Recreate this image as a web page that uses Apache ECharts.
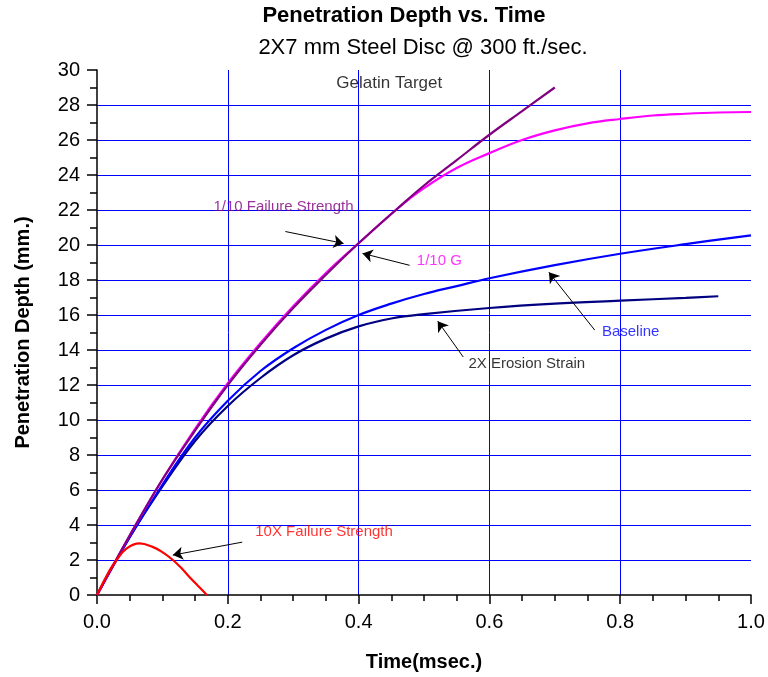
<!DOCTYPE html>
<html>
<head>
<meta charset="utf-8">
<script src="https://cdn.jsdelivr.net/npm/echarts@6/dist/echarts.min.js"></script>
<style>
  html, body { margin: 0; padding: 0; background: #fff; }
  #main { width: 768px; height: 677px; }
</style>
</head>
<body>
<div id="main"></div>
<script>
// time (msec.) / depth (mm.) pairs
var failure10th = [[0,0],[0.05,3.4],[0.1,6.6],[0.15,9.4],[0.2,12.0],[0.25,14.3],[0.3,16.4],[0.35,18.3],[0.4,20.1],[0.46,22.1],[0.5,23.4],[0.55,24.85],[0.6,26.3],[0.65,27.65],[0.7,29.0]];
var g10th = [[0,0],[0.05,3.4],[0.1,6.6],[0.15,9.5],[0.2,12.1],[0.25,14.4],[0.3,16.5],[0.35,18.4],[0.4,20.1],[0.46,22.1],[0.5,23.25],[0.55,24.4],[0.6,25.25],[0.65,26.0],[0.7,26.55],[0.75,26.95],[0.8,27.2],[0.85,27.4],[0.9,27.5],[0.95,27.57],[1.0,27.6]];
var baseline = [[0,0],[0.05,3.3],[0.1,6.3],[0.15,9.0],[0.2,11.1],[0.25,12.8],[0.3,14.1],[0.35,15.15],[0.4,16.0],[0.45,16.65],[0.5,17.2],[0.55,17.65],[0.6,18.1],[0.7,18.85],[0.8,19.5],[0.9,20.05],[1.0,20.55]];
var erosion2x = [[0,0],[0.05,3.3],[0.1,6.2],[0.15,8.8],[0.2,10.8],[0.25,12.4],[0.3,13.7],[0.35,14.65],[0.4,15.35],[0.45,15.8],[0.5,16.05],[0.6,16.4],[0.7,16.65],[0.8,16.82],[0.9,16.98],[0.95,17.07]];
var failure10x = [[0,0],[0.01,0.75],[0.02,1.45],[0.03,2.0],[0.045,2.65],[0.065,2.95],[0.085,2.75],[0.1,2.45],[0.116,2.0],[0.13,1.5],[0.142,1.0],[0.155,0.5],[0.168,0]];

// annotation texts [x, y, text, color, size] and arrows [from, to]
var notes = [
  [0.366, 29.25, 'Gelatin Target', '#000000', 17],
  [0.178, 22.2, '1/10 Failure Strength', '#800080', 15],
  [0.489, 19.12, '1/10 G', '#ff00ff', 15],
  [0.772, 15.03, 'Baseline', '#0000ff', 15],
  [0.568, 13.2, '2X Erosion Strain', '#000000', 15],
  [0.242, 3.62, '10X Failure Strength', '#ff0000', 15]
];
var arrows = [
  [[0.288, 20.77], [0.377, 20.09]],
  [[0.478, 18.84], [0.406, 19.52]],
  [[0.761, 15.14], [0.691, 18.44]],
  [[0.560, 13.60], [0.521, 15.65]],
  [[0.222, 3.02], [0.116, 2.28]]
];

var chart = echarts.init(document.getElementById('main'));
var font = 'Liberation Sans, Arial, sans-serif';

function curve(name, data, color) {
  return {
    name: name, type: 'line', data: data, showSymbol: false, smooth: 0.4,
    lineStyle: { color: color, width: 2.2 }, z: 3
  };
}

var option = {
  animation: false,
  backgroundColor: '#fff',
  textStyle: { fontFamily: font },
  title: [
    { text: 'Penetration Depth vs. Time', left: 404, top: 5, padding: 0, textAlign: 'center',
      textStyle: { fontSize: 22, fontWeight: 'bold', color: '#000', fontFamily: font } },
    { text: '2X7 mm Steel Disc @ 300 ft./sec.', left: 423, top: 37, padding: 0, textAlign: 'center',
      textStyle: { fontSize: 22, fontWeight: 'normal', color: '#000', fontFamily: font } }
  ],
  grid: { left: 97, right: 17, top: 70, bottom: 80 },
  xAxis: {
    type: 'value', min: 0, max: 1, interval: 0.2,
    name: 'Time(msec.)', nameLocation: 'middle', nameGap: 57,
    nameTextStyle: { fontSize: 20, fontWeight: 'bold', color: '#000' },
    axisLine: { lineStyle: { color: '#000', width: 1.5 } },
    axisTick: { length: 9, lineStyle: { color: '#000', width: 1.5 } },
    minorTick: { show: true, splitNumber: 4, length: 6, lineStyle: { color: '#000', width: 1.5 } },
    axisLabel: { fontSize: 20, color: '#000', margin: 17, formatter: function (v) { return v.toFixed(1); } },
    splitLine: { show: true, showMinLine: false, showMaxLine: false, lineStyle: { color: '#0000ff', width: 1 } }
  },
  yAxis: {
    type: 'value', min: 0, max: 30, interval: 2,
    name: 'Penetration Depth (mm.)', nameLocation: 'middle', nameGap: 64, nameRotate: 90,
    nameTextStyle: { fontSize: 20, fontWeight: 'bold', color: '#000' },
    axisLine: { show: true, lineStyle: { color: '#000', width: 1.5 } },
    axisTick: { show: true, length: 10, lineStyle: { color: '#000', width: 1.5 } },
    minorTick: { show: true, splitNumber: 2, length: 7, lineStyle: { color: '#000', width: 1.5 } },
    axisLabel: { fontSize: 20, color: '#000', margin: 17 },
    splitLine: { show: true, showMinLine: false, showMaxLine: false, lineStyle: { color: '#0000ff', width: 1 } }
  },
  series: [
    curve('2X Erosion Strain', erosion2x, '#000080'),
    curve('Baseline', baseline, '#0000ff'),
    curve('1/10 G', g10th, '#ff00ff'),
    curve('1/10 Failure Strength', failure10th, '#800080'),
    curve('10X Failure Strength', failure10x, '#ff0000'),
    {
      type: 'lines', coordinateSystem: 'cartesian2d', z: 4,
      symbol: ['none', 'arrow'], symbolSize: [0, 10],
      lineStyle: { color: '#000', width: 1, opacity: 1 },
      data: arrows.map(function (a) { return { coords: a }; })
    },
    {
      type: 'scatter', symbolSize: 0, z: 5, silent: true,
      data: notes.map(function (n) {
        return {
          value: [n[0], n[1]],
          label: { show: true, position: 'right', distance: 0, formatter: n[2],
                   color: n[3], fontSize: n[4], fontFamily: font }
        };
      })
    }
  ]
};
chart.setOption(option);
</script>
</body>
</html>
